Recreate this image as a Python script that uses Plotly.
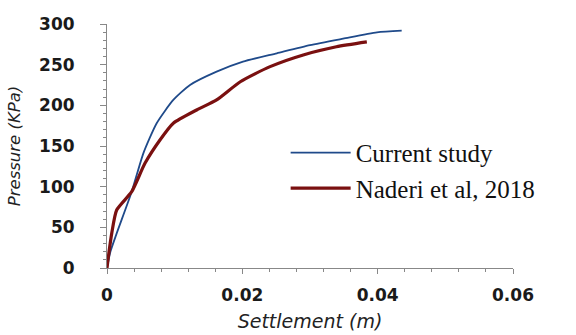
import plotly.graph_objects as go

# Current study
cur_x = [0, 0.0005, 0.00143, 0.00365, 0.00537, 0.00734, 0.0098, 0.01227, 0.0162, 0.0201, 0.0251, 0.0300, 0.0349, 0.0399, 0.04355]
cur_p = [0, 20, 42.6, 93.8, 141, 178, 206.6, 225, 241.4, 253.7, 264, 274, 282, 289.8, 291.8]

# Naderi et al, 2018
nad_x = [0, 0.0003, 0.0007, 0.00143, 0.00365, 0.00561, 0.00783, 0.0098, 0.01325, 0.0162, 0.0197, 0.0241, 0.0290, 0.0339, 0.0384]
nad_p = [0, 20, 42.6, 71.3, 93.8, 128.7, 157.4, 178, 194.3, 206.6, 229, 247.6, 262, 272, 278]

x_ticks = [0, 0.02, 0.04, 0.06]
x_tick_text = ["0", "0.02", "0.04", "0.06"]
y_ticks = [0, 50, 100, 150, 200, 250, 300]

fig = go.Figure()
fig.add_trace(go.Scatter(x=cur_x, y=cur_p, mode="lines", name="Current study",
                         line=dict(color="#1f4a8a", width=1.8, shape="spline", smoothing=0.6)))
fig.add_trace(go.Scatter(x=nad_x, y=nad_p, mode="lines", name="Naderi et al, 2018",
                         line=dict(color="#7a1010", width=3.2, shape="spline", smoothing=0.6)))

axis_font = dict(family="DejaVu Sans", size=17, color="#1a1a1a", weight="bold")
fig.update_layout(
    width=576, height=335,
    margin=dict(l=107, r=63, t=24, b=67),
    plot_bgcolor="white", paper_bgcolor="white",
    showlegend=True,
    legend=dict(x=0.44, y=0.40, xanchor="left", yanchor="middle",
                font=dict(family="Liberation Serif", size=25, color="#111"),
                bgcolor="rgba(0,0,0,0)", itemwidth=60, tracegroupgap=0),
    xaxis=dict(range=[0, 0.06], tickvals=x_ticks, ticktext=x_tick_text, automargin=False,
               showgrid=False, zeroline=False, showline=True, linecolor="#888", linewidth=1,
               ticks="outside", ticklen=5, tickcolor="#888",
               minor=dict(dtick=0.004, ticks="outside", ticklen=3, tickcolor="#888"),
               tickfont=axis_font, ticklabelstandoff=7,
               title=dict(text="Settlement (m)", font=dict(family="DejaVu Sans", size=19, style="italic", color="#222"), standoff=10)),
    yaxis=dict(range=[0, 300], tickvals=y_ticks, automargin=False,
               showgrid=False, zeroline=False, showline=True, linecolor="#888", linewidth=1,
               ticks="outside", ticklen=6, tickcolor="#888",
               minor=dict(dtick=10, ticks="outside", ticklen=3, tickcolor="#888"),
               tickfont=axis_font, ticklabelstandoff=22,
               title=dict(text="Pressure (KPa)", font=dict(family="DejaVu Sans", size=16.5, style="italic", color="#222"), standoff=14)),
)
fig.write_html("out.html")
